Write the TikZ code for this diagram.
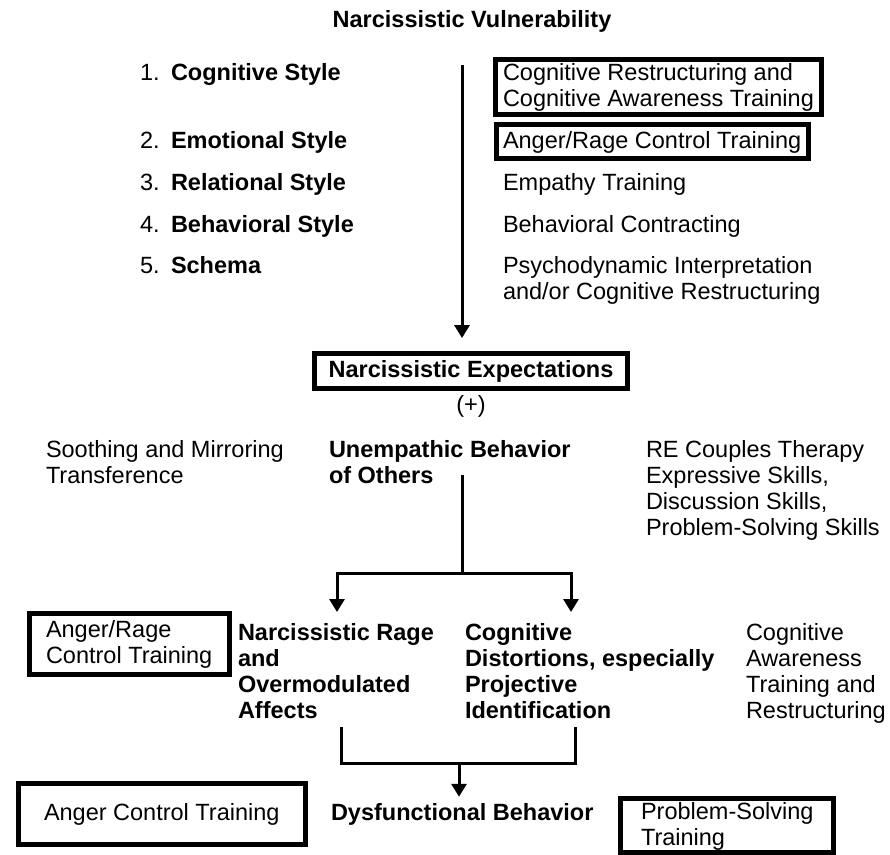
\documentclass[tikz,border=0pt]{standalone}
\usepackage{fontspec}
\setmainfont{Liberation Sans}
\usepackage{tikz}
\usetikzlibrary{arrows.meta, positioning}

\newcommand{\basefont}{\fontsize{23.5}{26}\selectfont}
\newcommand{\itemno}[1]{\makebox[31pt][l]{\mdseries #1}}

\tikzset{
  lbl/.style={anchor=text, inner sep=0pt, align=left, font=\basefont},
  boldlbl/.style={lbl, font=\basefont\bfseries},
  trainbox/.style={draw, line width=5pt, anchor=text, align=left, font=\basefont},
  link/.style={line width=3pt},
  arrowlink/.style={line width=3pt, -{Triangle[width=15pt, length=13pt]}},
}

\begin{document}
\begin{tikzpicture}[x=1pt, y=-1pt]
  \useasboundingbox (0,0) rectangle (890,854);

  % Title
  \node[anchor=base, inner sep=0pt, font=\basefont\bfseries] (vuln) at (472,27) {Narcissistic Vulnerability};

  % Five styles
  \node[boldlbl] (cogsty) at (140,80) {\itemno{1.}Cognitive Style};
  \node[boldlbl] (emosty) at (140,148) {\itemno{2.}Emotional Style};
  \node[boldlbl] (relsty) at (140,190) {\itemno{3.}Relational Style};
  \node[boldlbl] (behsty) at (140,232) {\itemno{4.}Behavioral Style};
  \node[boldlbl] (schema) at (140,273) {\itemno{5.}Schema};

  % Treatments per style (multi-line nodes sit on their last line)
  \node[trainbox, inner xsep=8pt, inner ysep=3.75pt] (cogtx) at (503,106) {Cognitive Restructuring and\\Cognitive Awareness Training};
  \node[trainbox, inner xsep=7pt, inner ysep=6pt] (angertx) at (503,148) {Anger/Rage Control Training};
  \node[lbl] (emptx) at (503,190) {Empathy Training};
  \node[lbl] (behtx) at (503,232) {Behavioral Contracting};
  \node[lbl] (psytx) at (503,299) {Psychodynamic Interpretation\\and/or Cognitive Restructuring};

  % Expectations
  \coordinate (vtop) at (462,65);
  \node[trainbox, anchor=base, font=\basefont\bfseries, inner xsep=14.5pt, inner ysep=6.4pt] (expect) at (471,377) {Narcissistic Expectations};
  \draw[arrowlink, shorten >=13pt] (vtop) -- (vtop |- expect.north);
  \node[anchor=base, inner sep=0pt, font=\basefont] (plus) at (471,412) {(+)};

  \node[lbl] (sooth) at (46,483) {Soothing and Mirroring\\Transference};
  \node[boldlbl] (unemp) at (329,483) {Unempathic Behavior\\of Others};
  \node[lbl] (recouple) at (646,535) {RE Couples Therapy\\Expressive Skills,\\Discussion Skills,\\Problem-Solving Skills};

  % Split into rage and distortions
  \coordinate (ustart) at (462,475);
  \coordinate (fork) at (462,573);
  \coordinate (ltip) at (337,612);
  \coordinate (rtip) at (571,612);
  \draw[link] (ustart) -- (fork);
  \draw[arrowlink] (fork) -| (ltip);
  \draw[arrowlink] (fork) -| (rtip);

  \node[trainbox, inner xsep=17pt, inner ysep=6.4pt] (angerrage) at (46,663) {Anger/Rage\\Control Training};
  \node[boldlbl] (rage) at (238,718) {Narcissistic Rage\\and\\Overmodulated\\Affects};
  \node[boldlbl] (distort) at (465,718) {Cognitive\\Distortions, especially\\Projective\\Identification};
  \node[lbl] (cogaware) at (746,718) {Cognitive\\Awareness\\Training and\\Restructuring};

  % Join into behavior
  \coordinate (lfoot) at (341,727);
  \coordinate (rfoot) at (575,727);
  \coordinate (join) at (459,763);
  \draw[link] (lfoot) |- (join) -| (rfoot);

  \node[trainbox, inner xsep=26pt, inner ysep=19.4pt] (angerctl) at (44,820) {Anger Control Training};
  \node[boldlbl] (dysf) at (331,820) {Dysfunctional Behavior};
  \node[trainbox, inner xsep=20.5pt, inner ysep=3pt] (probsolve) at (641,845) {Problem-Solving\\Training};
  \draw[arrowlink, shorten >=6pt] (join) -- (join |- dysf.north);
\end{tikzpicture}
\end{document}
